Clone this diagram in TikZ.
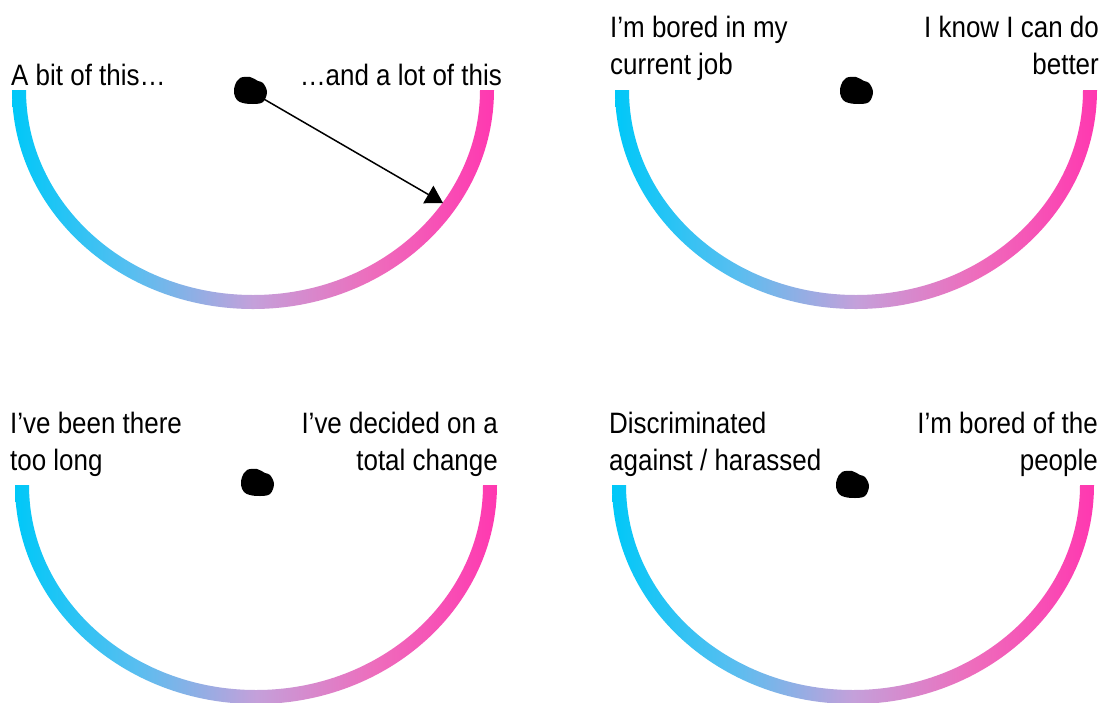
\documentclass[tikz,border=0pt]{standalone}
\usepackage{fontspec}
\setmainfont[FakeStretch=0.88]{Liberation Sans}
\usepackage{tikz}
\usetikzlibrary{arrows.meta}
\definecolor{gcyan}{RGB}{0,200,248}
\definecolor{gblue}{RGB}{88,190,240}
\definecolor{gmid}{RGB}{196,160,218}
\definecolor{grose}{RGB}{238,108,188}
\definecolor{gpink}{RGB}{255,56,176}
\pgfdeclarehorizontalshading{gaugeshade}{100bp}{color(0bp)=(gcyan); color(25bp)=(gcyan); color(37.5bp)=(gblue); color(50bp)=(gmid); color(62.5bp)=(grose); color(75bp)=(gpink); color(100bp)=(gpink)}
\newcommand{\gaugeband}[1]{\shade[gaugearc, shift={(#1)}] (-241,0) arc[start angle=180, end angle=0, x radius=241, y radius=219] -- (227,0) arc[start angle=0, end angle=180, x radius=227, y radius=205] -- cycle;}
\newcommand{\blob}[1]{\fill[black, shift={(#1)}] plot[smooth cycle, tension=0.6] coordinates {(-10,-13) (0,-14) (8,-10) (13,-8) (17,1) (13,11) (3,13) (-7,12) (-13,9) (-16,2) (-15,-6)};}
\tikzset{gaugearc/.style={shading=gaugeshade},
  lbl/.style={inner sep=0pt, font={\fontsize{29.5}{37}\selectfont}},
  pointer/.style={line width=1.5pt, -{Triangle[length=17pt, width=20pt]}}}

\begin{document}
\begin{tikzpicture}[x=1pt, y=-1pt]
\useasboundingbox[fill=white] (0,0) rectangle (1102,702);

\gaugeband{253,90}
\gaugeband{856,90}
\gaugeband{256,485}
\gaugeband{853,485}

% base anchor sits on the last line
\node[lbl, anchor=base west] (1) at (11,85) {A bit of this…};
\node[lbl, anchor=base east] (2) at (502,85) {…and a lot of this};
\node[lbl, anchor=base west, align=left] (3) at (610,74) {I’m bored in my\\current job};
\node[lbl, anchor=base east, align=right] (4) at (1099,74) {I know I can do\\better};
\node[lbl, anchor=base west, align=left] (5) at (10,470) {I’ve been there\\too long};
\node[lbl, anchor=base east, align=right] (6) at (498,470) {I’ve decided on a\\total change};
\node[lbl, anchor=base west, align=left] (7) at (609,470) {Discriminated\\against / harassed};
\node[lbl, anchor=base east, align=right] (8) at (1098,470) {I’m bored of the\\people};

\coordinate (p1) at (250,91);
\coordinate (p2) at (856,91);
\coordinate (p3) at (257,483);
\coordinate (p4) at (852,485);
\coordinate (t1) at (443,203);

\draw[pointer] (p1) -- (t1);
\blob{p1} \blob{p2} \blob{p3} \blob{p4}

\end{tikzpicture}
\end{document}
